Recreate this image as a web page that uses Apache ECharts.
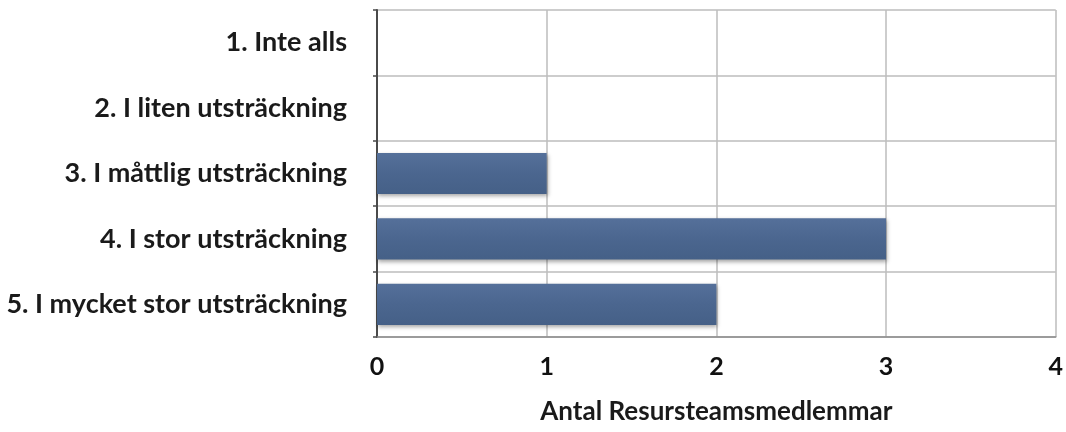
<!DOCTYPE html>
<html>
<head>
<meta charset="utf-8">
<script src="https://cdn.jsdelivr.net/npm/echarts@6/dist/echarts.min.js"></script>
<style>
  html, body { margin: 0; padding: 0; background: #fff; }
  #chart { width: 1066px; height: 432px; }
</style>
</head>
<body>
<div id="chart"></div>
<script>
// Answer categories, listed top to bottom as drawn
const categories = [
  '1. Inte alls',
  '2. I liten utsträckning',
  '3. I måttlig utsträckning',
  '4. I stor utsträckning',
  '5. I mycket stor utsträckning'
];
// Number of team members per answer
const counts = [0, 0, 1, 3, 2];
const xTicks = [0, 1, 2, 3, 4];
const axisTitle = 'Antal Resursteamsmedlemmar';

const FONT = 'Lato, "Open Sans", sans-serif';
const chart = echarts.init(document.getElementById('chart'), null, { renderer: 'canvas' });

chart.setOption({
  animation: false,
  backgroundColor: '#ffffff',
  grid: { left: 377, right: 9, top: 10, bottom: 95, containLabel: false },
  xAxis: {
    type: 'value',
    min: xTicks[0],
    max: xTicks[xTicks.length - 1],
    interval: 1,
    name: axisTitle,
    nameLocation: 'middle',
    nameGap: 62,
    nameTextStyle: { fontFamily: FONT, fontSize: 26, color: '#1a1a1a', fontWeight: 'bold' },
    axisLine: { show: true, lineStyle: { color: '#8a8a8a', width: 1.5 } },
    axisTick: { show: false },
    axisLabel: { fontFamily: FONT, fontSize: 25, color: '#111', margin: 17, fontWeight: 'bold' },
    splitLine: { show: true, lineStyle: { color: '#bdbdbd', width: 1.5 } }
  },
  yAxis: {
    type: 'category',
    inverse: true,
    data: categories,
    axisLine: { show: true, lineStyle: { color: '#4a4a4a', width: 2 } },
    axisTick: { show: true, length: 4, lineStyle: { color: '#4a4a4a', width: 1.5 } },
    axisLabel: { fontFamily: FONT, fontSize: 27, color: '#1a1a1a', margin: 30, fontWeight: 'bold' },
    splitLine: { show: true, lineStyle: { color: '#bdbdbd', width: 1.5 } }
  },
  series: [{
    type: 'bar',
    data: counts,
    barWidth: '63%',
    itemStyle: {
      color: new echarts.graphic.LinearGradient(0, 0, 0, 1, [
        { offset: 0, color: '#55709a' },
        { offset: 0.5, color: '#4b668f' },
        { offset: 1, color: '#456087' }
      ]),
      shadowColor: 'rgba(0,0,0,0.35)',
      shadowBlur: 4,
      shadowOffsetX: 1,
      shadowOffsetY: 2
    }
  }]
});
</script>
</body>
</html>
